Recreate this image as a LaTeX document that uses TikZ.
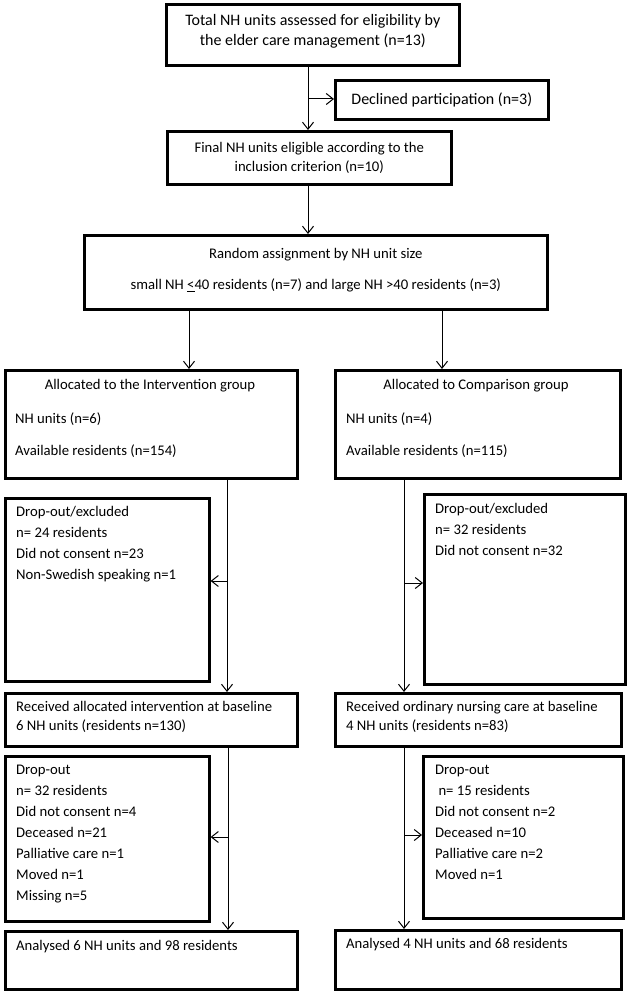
\documentclass[tikz,border=0pt]{standalone}
\usepackage{fontspec}
\setmainfont{Carlito}
\usetikzlibrary{calc,arrows.meta}
\tikzset{
box/.style={draw, line width=2.6pt, inner sep=0pt},
flow/.style={line width=1pt, -{Straight Barb[length=7pt,width=11pt]}},
big/.style={font=\fontsize{16}{20}\selectfont, align=center},
mid/.style={font=\fontsize{14.7}{19}\selectfont, align=center},
txt/.style={font=\fontsize{14.7}{21}\selectfont, align=left, inner sep=0pt, anchor=north west}
}
\def\drawBox#1#2#3#4#5{
\node[box, anchor=north west, minimum width=#4pt, minimum height=#5pt] at (#2,#3) (#1) {};
}

\begin{document}
\begin{tikzpicture}[x=1pt,y=-1pt]
\useasboundingbox (0,0) rectangle (627,992);
\node[box, big, text depth=9pt, anchor=north west, minimum width=293pt, minimum height=61pt] at (165,3) (total) {Total NH units assessed for eligibility by\\the elder care management (n=13)};
\node[box, big, anchor=north west, minimum width=213pt, minimum height=39pt] at (334,79) (declined) {Declined participation (n=3)};
\node[box, mid, anchor=north west, minimum width=284pt, minimum height=53pt] at (166,130) (final) {Final NH units eligible according to the\\inclusion criterion (n=10)};
\node[box, mid, text depth=7pt, anchor=north west, minimum width=463pt, minimum height=74pt] at (83,234) (random) {Random assignment by NH unit size\\[12pt]small NH \underline{<}40 residents (n=7) and large NH >40 residents (n=3)};
\drawBox{allocL}{4}{369}{292}{108}
\drawBox{allocR}{334}{369}{285}{108}
\drawBox{dropL}{4}{497}{204}{183}
\drawBox{dropR}{423}{493}{201}{190}
\drawBox{recvL}{4}{692}{292}{53}
\drawBox{recvR}{334}{692}{286}{53}
\drawBox{lossL}{4}{755}{204}{165}
\drawBox{lossR}{422}{755}{200}{162}
\drawBox{doneL}{4}{930}{292}{58}
\drawBox{doneR}{334}{929}{286}{59}
\node[mid] at (150,386) (allocLtitle) {Allocated to the Intervention group};
\node[txt] at (15,413) (allocLtxt) {NH units (n=6)\\[11pt]Available residents (n=154)};
\node[mid] at (476,386) (allocRtitle) {Allocated to Comparison group};
\node[txt] at (346,413) (allocRtxt) {NH units (n=4)\\[11pt]Available residents (n=115)};
\node[txt] at (16,506) (dropLtxt) {Drop-out/excluded\\n= 24 residents\\Did not consent n=23\\Non-Swedish speaking n=1};
\node[txt] at (435,503) (dropRtxt) {Drop-out/excluded\\n= 32 residents\\Did not consent n=32};
\node[txt, font=\fontsize{14.7}{19}\selectfont] at (16,701) (recvLtxt) {Received allocated intervention at baseline\\6 NH units (residents n=130)};
\node[txt, font=\fontsize{14.7}{19}\selectfont] at (346,701) (recvRtxt) {Received ordinary nursing care at baseline\\4 NH units (residents n=83)};
\node[txt] at (16,765) (lossLtxt) {Drop-out\\n= 32 residents\\Did not consent n=4\\Deceased n=21\\Palliative care n=1\\Moved n=1\\Missing n=5};
\node[txt] at (435,765) (lossRtxt) {Drop-out\\\ n= 15 residents\\Did not consent n=2\\Deceased n=10\\Palliative care n=2\\Moved n=1};
\node[txt] at (16,940) (doneLtxt) {Analysed 6 NH units and 98 residents};
\node[txt] at (346,938) (doneRtxt) {Analysed 4 NH units and 68 residents};
\coordinate (j1) at (308,99);
\coordinate (sL) at (189,0);
\coordinate (sR) at (442,0);
\coordinate (a1) at (227,581);
\coordinate (a2) at (404,583);
\coordinate (a3) at (228,837);
\coordinate (a4) at (404,835);
\draw[flow] (total.south -| j1) -- (final.north -| j1);
\draw[flow] (j1) -- (j1 -| declined.west);
\draw[flow] (final.south -| j1) -- (random.north -| j1);
\draw[flow] (random.south -| sL) -- (allocL.north -| sL);
\draw[flow] (random.south -| sR) -- (allocR.north -| sR);
\draw[flow] (allocL.south -| a1) -- (recvL.north -| a1);
\draw[flow] (a1) -- (a1 -| dropL.east);
\draw[flow] (allocR.south -| a2) -- (recvR.north -| a2);
\draw[flow] (a2) -- (a2 -| dropR.west);
\draw[flow] (recvL.south -| a3) -- (doneL.north -| a3);
\draw[flow] (a3) -- (a3 -| lossL.east);
\draw[flow] (recvR.south -| a4) -- (doneR.north -| a4);
\draw[flow] (a4) -- (a4 -| lossR.west);
\end{tikzpicture}
\end{document}
